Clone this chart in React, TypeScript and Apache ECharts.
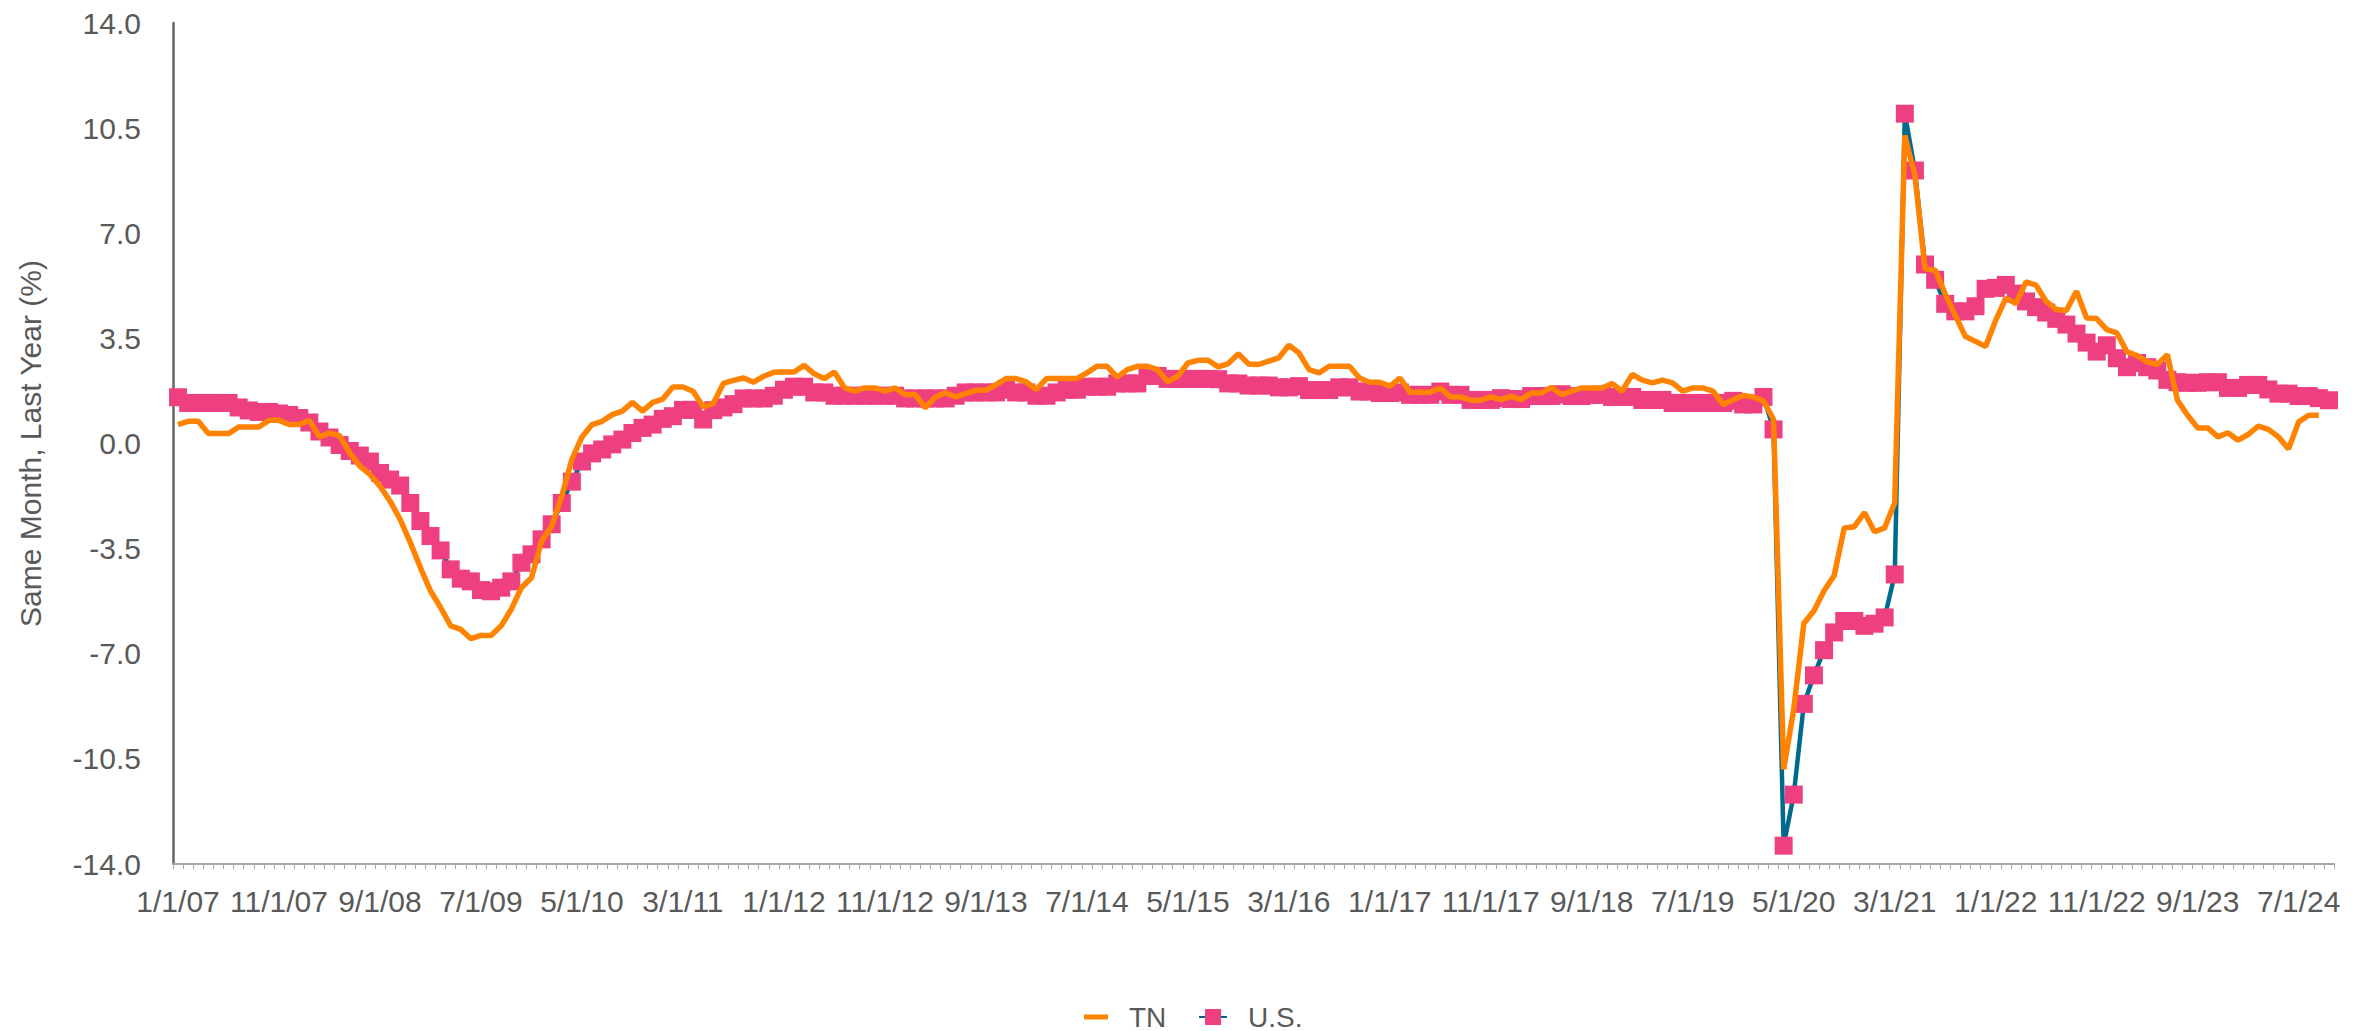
import React, { useEffect, useRef } from "react";
import * as echarts from "echarts";

// Monthly categories: Jan 2007 .. Oct 2024 (label format M/1/YY)
const START_YEAR = 2007;
const MONTH_COUNT = 214;
const categories: string[] = Array.from({ length: MONTH_COUNT }, (_, i) => {
  const y = START_YEAR + Math.floor(i / 12);
  const m = (i % 12) + 1;
  return `${m}/1/${String(y % 100).padStart(2, "0")}`;
});

const yTicks = { min: -14, max: 14, interval: 3.5 };

// TN, same month last year (%)
const tnValues: number[] = [
  0.63, 0.74, 0.74, 0.33, 0.33, 0.33, 0.55, 0.55, 0.55, 0.77,
  0.77, 0.63, 0.63, 0.77, 0.22, 0.35, 0.26, -0.31, -0.75, -1.03,
  -1.42, -1.92, -2.53, -3.30, -4.13, -4.91, -5.46, -6.07, -6.19, -6.50,
  -6.39, -6.39, -6.07, -5.52, -4.80, -4.47, -3.25, -2.75, -1.75, -0.53,
  0.22, 0.63, 0.74, 0.96, 1.08, 1.37, 1.08, 1.37, 1.48, 1.88,
  1.88, 1.74, 1.22, 1.33, 2.00, 2.10, 2.18, 2.04, 2.24, 2.37,
  2.38, 2.38, 2.60, 2.32, 2.16, 2.38, 1.85, 1.74, 1.85, 1.85,
  1.74, 1.85, 1.63, 1.63, 1.19, 1.55, 1.69, 1.55, 1.66, 1.77,
  1.77, 1.96, 2.16, 2.16, 2.05, 1.80, 2.16, 2.16, 2.16, 2.16,
  2.35, 2.57, 2.57, 2.21, 2.46, 2.57, 2.57, 2.46, 2.05, 2.24,
  2.68, 2.77, 2.77, 2.55, 2.66, 2.99, 2.65, 2.63, 2.74, 2.85,
  3.27, 3.02, 2.46, 2.35, 2.57, 2.57, 2.57, 2.18, 2.04, 2.04,
  1.91, 2.18, 1.71, 1.71, 1.71, 1.85, 1.55, 1.55, 1.44, 1.44,
  1.55, 1.46, 1.57, 1.46, 1.68, 1.68, 1.87, 1.63, 1.74, 1.85,
  1.85, 1.85, 2.00, 1.74, 2.30, 2.11, 2.02, 2.11, 2.02, 1.74,
  1.85, 1.85, 1.74, 1.30, 1.46, 1.60, 1.55, 1.42, 0.80, -10.85,
  -8.84, -5.99, -5.57, -4.90, -4.40, -2.81, -2.77, -2.30, -2.94, -2.81,
  -1.97, 10.26, 8.92, 5.82, 5.77, 4.98, 4.26, 3.56, 3.40, 3.23,
  4.10, 4.84, 4.66, 5.38, 5.27, 4.73, 4.46, 4.43, 5.07, 4.18,
  4.16, 3.79, 3.68, 3.05, 2.93, 2.72, 2.63, 2.96, 1.44, 0.94,
  0.52, 0.52, 0.22, 0.36, 0.11, 0.30, 0.58, 0.47, 0.22, -0.18,
  0.72, 0.94, 0.94,
];

// U.S., same month last year (%)
const usValues: number[] = [
  1.54, 1.35, 1.35, 1.35, 1.35, 1.35, 1.20, 1.10, 1.05, 1.05,
  1.00, 0.95, 0.85, 0.70, 0.40, 0.20, -0.05, -0.25, -0.40, -0.60,
  -0.98, -1.20, -1.40, -1.98, -2.58, -3.08, -3.56, -4.19, -4.50, -4.59,
  -4.88, -4.92, -4.80, -4.59, -3.97, -3.69, -3.19, -2.69, -1.98, -1.27,
  -0.60, -0.33, -0.20, -0.03, 0.13, 0.35, 0.52, 0.63, 0.82, 0.91,
  1.12, 1.12, 0.80, 1.11, 1.20, 1.31, 1.50, 1.50, 1.50, 1.59,
  1.79, 1.89, 1.89, 1.70, 1.70, 1.59, 1.59, 1.59, 1.59, 1.59,
  1.59, 1.59, 1.50, 1.50, 1.50, 1.50, 1.50, 1.59, 1.70, 1.70,
  1.70, 1.70, 1.79, 1.70, 1.70, 1.59, 1.59, 1.70, 1.79, 1.79,
  1.89, 1.89, 1.89, 2.00, 2.00, 2.00, 2.25, 2.25, 2.15, 2.15,
  2.15, 2.15, 2.15, 2.14, 2.00, 2.00, 1.93, 1.93, 1.93, 1.87,
  1.87, 1.91, 1.78, 1.78, 1.78, 1.87, 1.87, 1.73, 1.73, 1.68,
  1.68, 1.70, 1.62, 1.62, 1.62, 1.73, 1.62, 1.62, 1.45, 1.45,
  1.45, 1.51, 1.48, 1.48, 1.58, 1.58, 1.58, 1.64, 1.58, 1.58,
  1.62, 1.62, 1.55, 1.55, 1.55, 1.45, 1.45, 1.45, 1.35, 1.35,
  1.35, 1.35, 1.35, 1.35, 1.42, 1.30, 1.30, 1.55, 0.47, -13.39,
  -11.69, -8.67, -7.72, -6.88, -6.29, -5.91, -5.91, -6.07, -6.00, -5.79,
  -4.36, 10.98, 9.09, 5.96, 5.45, 4.65, 4.40, 4.40, 4.57, 5.15,
  5.18, 5.28, 4.99, 4.73, 4.54, 4.36, 4.15, 3.96, 3.66, 3.36,
  3.06, 3.27, 2.84, 2.54, 2.68, 2.54, 2.43, 2.12, 2.04, 2.02,
  2.02, 2.04, 2.04, 1.85, 1.85, 1.95, 1.95, 1.80, 1.66, 1.66,
  1.58, 1.58, 1.51, 1.44,
];

const FONT = "'Liberation Sans', Arial, Helvetica, sans-serif";
const TEXT = "#595959";
const TN_COLOR = "#FF8200";
const US_MARK = "#EE4080";
const US_LINE = "#006A8E";

export default function App() {
  const ref = useRef<HTMLDivElement>(null);

  useEffect(() => {
    if (!ref.current) return;
    const chart = echarts.init(ref.current, undefined, { renderer: "svg" });
    const legendText = {
      fontSize: 28,
      lineHeight: 28,
      color: TEXT,
      fontFamily: FONT,
      padding: [0, 0, 0, 16],
    };
    chart.setOption({
      animation: false,
      backgroundColor: "#ffffff",
      textStyle: { fontFamily: FONT },
      grid: { left: 173, right: 42, top: 23, bottom: 1031 - 864, containLabel: false },
      legend: [
        {
          data: [{ name: "TN", icon: "rect" }],
          left: 1079,
          top: 998,
          itemWidth: 24,
          itemHeight: 5,
          textStyle: legendText,
        },
        {
          data: ["U.S."],
          left: 1193,
          top: 998,
          itemWidth: 28,
          itemHeight: 20,
          textStyle: legendText,
        },
      ],
      xAxis: {
        type: "category",
        data: categories,
        boundaryGap: true,
        axisLine: { show: true, onZero: false, lineStyle: { color: "#A6A6A6", width: 2 } },
        axisTick: { show: true, interval: 0, length: 5, lineStyle: { color: "#A6A6A6", width: 1 } },
        axisLabel: { interval: 9, margin: 22, fontSize: 30, color: TEXT, fontFamily: FONT },
        splitLine: { show: false },
      },
      yAxis: {
        type: "value",
        min: yTicks.min,
        max: yTicks.max,
        interval: yTicks.interval,
        name: "Same Month, Last Year (%)",
        nameLocation: "middle",
        nameGap: 128,
        nameTextStyle: { fontSize: 30, color: TEXT, fontFamily: FONT },
        axisLine: { show: true, onZero: false, lineStyle: { color: "#666666", width: 2.5 } },
        axisTick: { show: false },
        axisLabel: {
          margin: 32,
          fontSize: 30,
          color: TEXT,
          fontFamily: FONT,
          formatter: (v: number) => v.toFixed(1),
        },
        splitLine: { show: false },
      },
      series: [
        {
          name: "U.S.",
          type: "line",
          data: usValues,
          symbol: "rect",
          symbolSize: 18,
          showAllSymbol: true,
          itemStyle: { color: US_MARK },
          lineStyle: { color: US_LINE, width: 4.5 },
          z: 2,
        },
        {
          name: "TN",
          type: "line",
          data: tnValues,
          symbol: "none",
          itemStyle: { color: TN_COLOR },
          lineStyle: { color: TN_COLOR, width: 5.5 },
          z: 3,
        },
      ],
    });
    return () => chart.dispose();
  }, []);

  return (
    <div
      ref={ref}
      style={{ position: "absolute", left: 0, top: 0, width: 2376, height: 1031 }}
    />
  );
}
